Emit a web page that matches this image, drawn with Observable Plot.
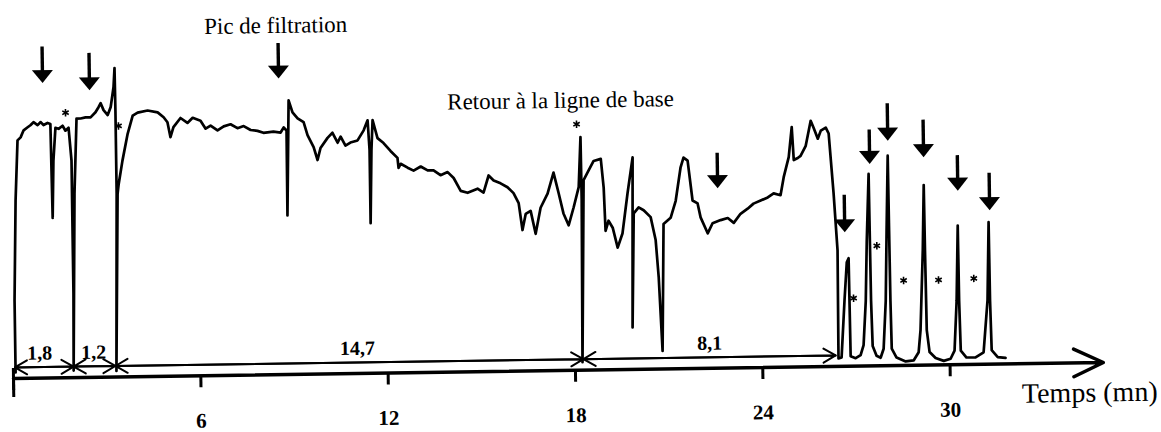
<!DOCTYPE html>
<html><head><meta charset="utf-8">
<script src="https://cdn.jsdelivr.net/npm/d3@7"></script>
<script src="https://cdn.jsdelivr.net/npm/@observablehq/plot@0.6"></script>
<style>
html,body{margin:0;padding:0;background:#fff;}
#chart{width:1161px;height:432px;overflow:hidden;position:relative;}
#chart svg{transform:rotate(-0.84deg);transform-origin:13px 378px;overflow:visible;display:block;}
</style></head><body><div id="chart"></div>
<script>
// Chromatogram trace: time (mn) and signal height (arbitrary units)
const traceT = [0.07,0.07,0.15,0.24,0.34,0.44,0.57,0.66,0.76,0.89,0.99,1.08,1.21,1.30,1.33,1.38,1.46,1.56,1.69,1.78,1.88,1.96,1.96,1.93,2.04,2.14,2.27,2.43,2.59,2.75,2.85,2.92,3.01,3.14,3.24,3.34,3.38,3.39,3.39,3.30,3.42,3.46,3.59,3.77,3.94,4.10,4.42,4.74,4.93,5.05,5.14,5.24,5.47,5.69,5.86,6.11,6.27,6.43,6.65,6.85,7.07,7.29,7.49,7.71,7.93,8.12,8.44,8.67,8.77,8.86,8.85,8.94,9.06,9.22,9.41,9.53,9.72,9.84,9.94,10.17,10.33,10.49,10.59,10.74,10.90,11.13,11.33,11.46,11.51,11.51,11.57,11.62,11.77,11.96,12.18,12.40,12.43,12.50,12.72,12.91,13.14,13.36,13.55,13.77,14.00,14.19,14.41,14.63,14.95,15.14,15.31,15.47,15.69,15.91,16.10,16.26,16.37,16.48,16.64,16.79,16.96,17.19,17.39,17.54,17.69,17.85,18.02,18.19,18.27,18.28,18.23,18.35,18.52,18.68,18.91,18.99,19.03,19.13,19.26,19.41,19.57,19.75,19.93,19.85,19.94,20.10,20.26,20.48,20.63,20.71,20.80,20.89,21.12,21.29,21.46,21.56,21.69,21.83,21.99,22.08,22.30,22.46,22.72,22.95,23.14,23.36,23.59,23.78,24.01,24.24,24.43,24.65,24.76,24.93,25.04,25.09,25.22,25.31,25.48,25.65,25.74,25.87,25.97,26.13,26.22,26.35,26.45,26.43,26.53,26.65,26.74,26.80,26.82,26.98,27.14,27.24,27.33,27.39,27.48,27.49,27.50,27.53,27.65,27.78,27.88,27.97,28.03,28.10,28.11,28.12,28.14,28.29,28.58,28.84,29.00,29.07,29.18,29.24,29.25,29.27,29.35,29.54,29.80,30.02,30.15,30.24,30.31,30.32,30.35,30.53,30.82,31.08,31.23,31.30,31.31,31.34,31.53,31.78];
const traceH = [6,78,178,238,241,248,251,253,256,253,256,253,255,254,160,217,250,249,252,247,250,217,84,7,184,259,259,260,260,265,270,274,267,262,270,290,309,266,183,6,183,193,216,243,261,264,266,264,259,254,239,249,258,253,258,255,247,250,245,249,251,247,249,245,244,242,243,242,247,244,159,274,262,256,252,239,227,214,226,236,241,231,237,228,231,233,243,253,223,150,223,253,235,230,222,215,205,209,205,202,206,202,202,197,200,194,181,179,183,179,196,191,188,184,178,168,141,157,160,137,163,177,198,178,157,145,163,183,233,170,8,190,200,209,211,182,139,149,142,122,136,176,212,42,156,162,159,152,129,92,18,145,151,168,201,211,208,168,165,151,135,145,148,150,145,154,159,164,167,170,174,172,190,210,240,207,209,211,221,246,239,228,236,239,233,173,116,8,9,66,104,108,10,8,11,21,65,125,192,125,65,20,10,8,17,65,135,210,135,65,17,8,4,5,13,35,115,180,115,35,13,7,4,6,14,64,139,64,14,7,7,12,64,142,64,14,7,6];

// Asterisk marks
const starT = [1.79,3.48,18.15,26.94,27.71,28.55,29.67,30.80];
const starH = [265,251,246,68,120,85,85,86];

// Downward arrows: time, top of shaft, tip
const arrowT   = [1.07,2.57,8.63,22.64,26.69,27.52,28.11,29.25,30.33,31.34];
const arrowTop = [331,324,331,215,171,236,262,245,209,191];
const arrowTip = [295,287,296,180,134,202,225,208,174,154];

// Time interval dimensions
const bounds = [0.05,1.93,3.27,18.26,26.34];
const dimLabels = ["1,8","1,2","14,7","8,1"];
const dimLabelT = [0.85,2.58,11.03,22.31];
const dimLineH = 11;
const dimLabelH = 25;

// Axis
const xTicks = [0,6,12,18,24,30];
const axisEnd = 34.91;

// Annotations
const notes = [
  {text:"Pic de filtration", t:8.56, h:349, size:23},
  {text:"Retour à la ligne de base", t:17.65, h:270, size:23},
  {text:"Temps (mn)", t:34.46, h:-30, size:28}
];

const trace = traceT.map((t,i)=>({t, h:traceH[i]}));
const stars = starT.map((t,i)=>({t, h:starH[i]}));
const arrows = arrowT.map((t,i)=>({t, top:arrowTop[i], tip:arrowTip[i]}));
const dims = [];
for (let i=0;i<bounds.length-1;i++){
  dims.push({a:bounds[i+1], b:bounds[i]});
  dims.push({a:bounds[i], b:bounds[i+1]});
}
const dimText = dimLabels.map((s,i)=>({s, t:dimLabelT[i]}));

const downTriangle = { draw(ctx){ ctx.moveTo(-10.5,-13); ctx.lineTo(10.5,-13); ctx.lineTo(0,0); ctx.closePath(); } };

const plot = Plot.plot({
  width:1161, height:432,
  marginLeft:13, marginRight:24, marginTop:0, marginBottom:54,
  x:{domain:[0,36], axis:null},
  y:{domain:[0,378], axis:null},
  style:{fontFamily:"'Liberation Serif', 'Times New Roman', serif", background:"white", color:"black", overflow:"visible"},
  marks:[
    Plot.arrow([{x1:0, x2:axisEnd, y:0}], {x1:"x1", x2:"x2", y1:"y", y2:"y", stroke:"black", strokeWidth:3.5, headLength:14, headAngle:50}),
    Plot.axisX({ticks:xTicks, tickFormat:d => d===0 ? "" : String(d), tickSize:12, tickPadding:25, fontSize:21, fontWeight:"bold", strokeWidth:3}),
    Plot.ruleX([0], {y1:-19, y2:10, strokeWidth:3}),
    Plot.arrow(dims, {x1:"a", x2:"b", y1:dimLineH, y2:dimLineH, stroke:"black", strokeWidth:2, headLength:10.5, headAngle:60}),
    Plot.text(dimText, {x:"t", y:dimLabelH, text:"s", fontSize:20, fontWeight:"bold"}),
    Plot.line(trace, {x:"t", y:"h", stroke:"black", strokeWidth:2.7, strokeLinejoin:"round"}),
    Plot.dot(stars, {x:"t", y:"h", symbol:"asterisk", r:3.5, stroke:"black", strokeWidth:1.6}),
    Plot.ruleX(arrows, {x:"t", y1:"top", y2:d => d.tip + 5, stroke:"black", strokeWidth:3.4}),
    Plot.dot(arrows, {x:"t", y:"tip", symbol:downTriangle, fill:"black", stroke:"none", r:5}),
    Plot.text(notes, {x:"t", y:"h", text:"text", fontSize:d => d.size, fill:"black"})
  ]
});
document.getElementById("chart").appendChild(plot);
</script>
</body></html>
